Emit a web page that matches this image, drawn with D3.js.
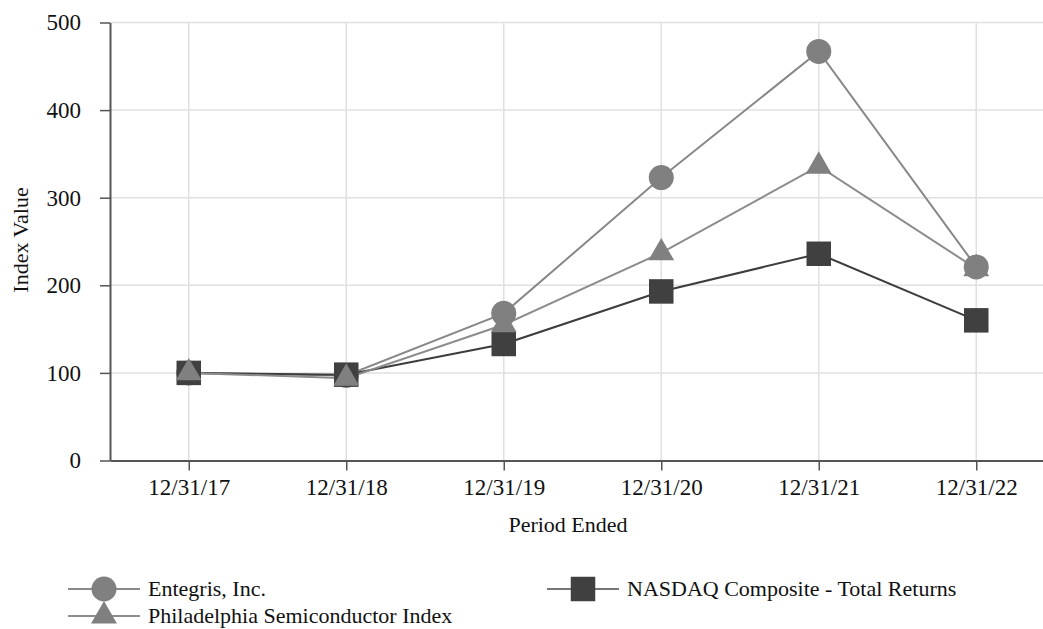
<!DOCTYPE html>
<html>
<head>
  <title>Index Value Line Chart</title>
  <style>
    body { margin: 0; background-color: white; }
    svg text { font-family: "Liberation Serif", "Times New Roman", Times, "DejaVu Serif", serif !important; }
  </style>
</head>
<body>
  <svg width="1043" height="629"></svg>

  <script src="https://d3js.org/d3.v7.min.js"></script>
  <script>
    const periods = ["12/31/17", "12/31/18", "12/31/19", "12/31/20", "12/31/21", "12/31/22"];
    const entegris = [100, 97, 168, 323, 467, 221];
    const sox = [100, 94, 155, 237, 336, 219];
    const nasdaq = [100, 98, 133, 193, 236, 160];
    const yTicks = [0, 100, 200, 300, 400, 500];

    const width = 1043;
    const height = 629;
    const plotLeft = 110, plotTop = 22.5, plotBottom = 460.5;

    const svg = d3.select("svg");

    const x = d3.scalePoint()
      .domain(periods)
      .range([plotLeft, plotLeft + 945])
      .padding(0.5);
    const y = d3.scaleLinear()
      .domain([0, 500])
      .range([plotBottom, plotTop]);

    // grid
    svg.append("g").selectAll("line")
      .data(yTicks.slice(1))
      .enter().append("line")
      .attr("x1", plotLeft).attr("x2", width)
      .attr("y1", d => y(d)).attr("y2", d => y(d))
      .attr("stroke", "#e0e0e0").attr("stroke-width", 1.5);
    svg.append("g").selectAll("line")
      .data(periods)
      .enter().append("line")
      .attr("x1", d => x(d)).attr("x2", d => x(d))
      .attr("y1", plotTop).attr("y2", plotBottom)
      .attr("stroke", "#e0e0e0").attr("stroke-width", 1.5);

    // axes
    const yAxis = svg.append("g")
      .attr("transform", `translate(${plotLeft},0)`)
      .call(d3.axisLeft(y).tickValues(yTicks).tickSizeInner(10).tickSizeOuter(0).tickPadding(19));
    const xAxis = svg.append("g")
      .attr("transform", `translate(0,${plotBottom})`)
      .call(d3.axisBottom(x).tickSizeInner(10).tickSizeOuter(0).tickPadding(8));
    [yAxis, xAxis].forEach(a => {
      a.attr("font-family", null);
      a.select(".domain").attr("stroke", "#555").attr("stroke-width", 2);
      a.selectAll(".tick line").attr("stroke", "#555").attr("stroke-width", 1.5);
      a.selectAll(".tick text")
        .attr("font-size", 23).attr("fill", "#111");
    });

    svg.append("text")
      .attr("transform", `translate(28,240) rotate(-90)`)
      .attr("text-anchor", "middle")
      .attr("font-size", 22).attr("fill", "#111")
      .text("Index Value");
    svg.append("text")
      .attr("x", 568).attr("y", 532)
      .attr("text-anchor", "middle")
      .attr("font-size", 22).attr("fill", "#111")
      .text("Period Ended");

    const series = [
      { name: "Entegris, Inc.", values: entegris, line: "#888", fill: "#808080", symbol: d3.symbolCircle, size: 491 },
      { name: "NASDAQ Composite - Total Returns", values: nasdaq, line: "#3c3c3c", fill: "#404040", symbol: d3.symbolSquare, size: 600 },
      { name: "Philadelphia Semiconductor Index", values: sox, line: "#8c8c8c", fill: "#808080", symbol: d3.symbolTriangle, size: 290 }
    ];

    const line = d3.line()
      .x((d, i) => x(periods[i]))
      .y(d => y(d));

    series.forEach(s => {
      svg.append("path")
        .datum(s.values)
        .attr("d", line)
        .attr("fill", "none")
        .attr("stroke", s.line)
        .attr("stroke-width", 2);
    });
    series.forEach(s => {
      svg.append("g").selectAll("path")
        .data(s.values)
        .enter().append("path")
        .attr("d", d3.symbol().type(s.symbol).size(s.size))
        .attr("transform", (d, i) => `translate(${x(periods[i])},${y(d)})`)
        .attr("fill", s.fill);
    });

    // legend
    const legendPos = [
      { x: 68, y: 589 },
      { x: 547, y: 589 },
      { x: 68, y: 616 }
    ];
    series.forEach((s, i) => {
      const p = legendPos[i];
      const g = svg.append("g").attr("transform", `translate(${p.x},${p.y})`);
      g.append("line")
        .attr("x1", 0).attr("x2", 72)
        .attr("stroke", i === 1 ? "#777" : s.line).attr("stroke-width", 2);
      g.append("path")
        .attr("d", d3.symbol().type(s.symbol).size(s.size))
        .attr("transform", "translate(36,0)")
        .attr("fill", s.fill);
      g.append("text")
        .attr("x", 80).attr("y", 0).attr("dy", "0.32em")
        .attr("font-size", 22).attr("fill", "#111")
        .text(s.name);
    });
  </script>
</body>
</html>
